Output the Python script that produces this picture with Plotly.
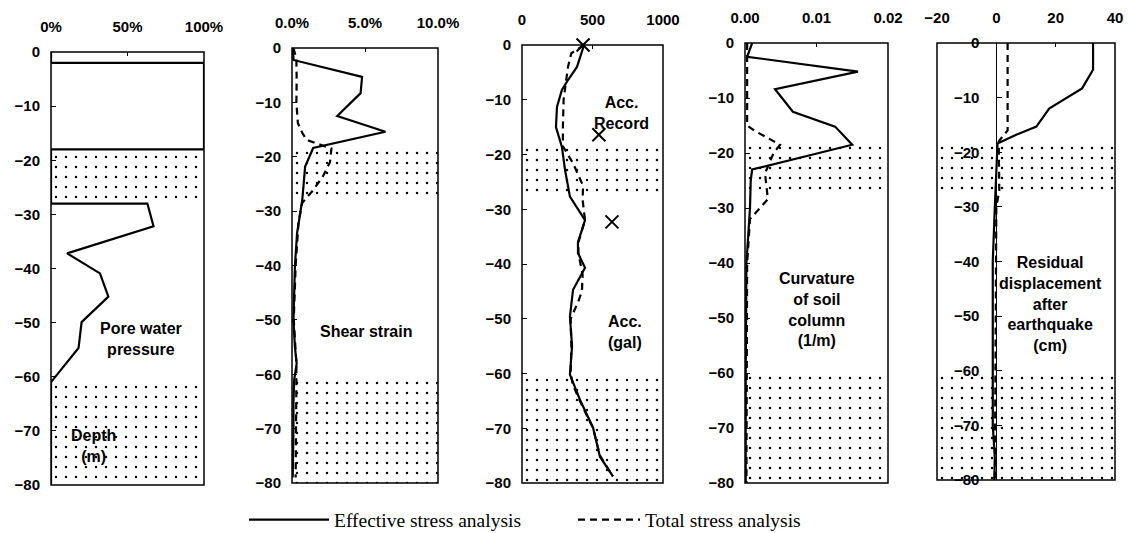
import plotly.graph_objects as go

W, H = 1128, 533

# ---------------- data ----------------
depth_ticks = [0, -10, -20, -30, -40, -50, -60, -70, -80]
layers = [(-18, -27.5), (-60.5, -80)]          # dotted soil layers (top, bottom)

# Panel 1: pore water pressure ratio (%)
pwp_depth = [0, -2, -2, -18, -18, -28, -28, -32.2, -37.2, -40.9, -45.2, -49.9, -54.7, -61, -80]
pwp_eff = [0, 0, 100, 100, 0, 0, 63, 67, 10.5, 32, 37.5, 20, 18, 0, 0]

# Panel 2: shear strain (%)
ss_eff_depth = [0, -2.2, -5.3, -8.3, -12.5, -15.4, -18.4, -21.8, -28, -34, -40, -46, -50, -55, -58, -61, -65, -70, -75, -79]
ss_eff = [0.07, 0.1, 4.8, 4.7, 3.1, 6.4, 1.45, 0.9, 0.7, 0.35, 0.2, 0.15, 0.1, 0.2, 0.32, 0.15, 0.1, 0.1, 0.05, 0.05]
ss_tot_depth = [0, -2, -6, -10, -13.8, -15.6, -16.9, -18.5, -21, -23.7, -26.3, -28.5, -32, -40, -50, -58, -62, -70, -79]
ss_tot = [0.1, 0.3, 0.32, 0.3, 0.4, 0.7, 1.0, 2.7, 2.6, 2.1, 1.4, 0.7, 0.45, 0.25, 0.12, 0.3, 0.3, 0.3, 0.25]

# Panel 3: acceleration (gal)
acc_eff_depth = [0, -2.4, -4, -6.4, -8.2, -11.3, -15, -18.6, -22.8, -27.7, -32, -36, -38, -40.7, -44.7, -49.6, -55, -60.2, -64.8, -69.9, -75.2, -78.8]
acc_eff = [440, 411, 390, 326, 283, 248, 241, 283, 305, 340, 447, 397, 397, 447, 362, 340, 355, 340, 411, 504, 553, 645]
acc_tot_depth = [0, -1.5, -4, -10, -15, -18.5, -21.6, -23.7, -25.7, -28.3, -32, -36, -38, -42, -45, -47, -50, -55, -60, -62, -65, -70, -75, -78.8]
acc_tot = [440, 350, 326, 295, 290, 290, 362, 397, 433, 430, 447, 400, 400, 430, 425, 397, 345, 350, 345, 360, 410, 504, 553, 645]
rec_depth = [0, -16.4, -32.3]
rec_acc = [433, 545, 638]

# Panel 4: curvature of soil column (1/m)
cur_eff_depth = [0, -2.5, -5.2, -8.4, -12.5, -15.2, -18.5, -23, -25, -30, -40, -50, -60, -70, -80]
cur_eff = [0.001, 0.0003, 0.0158, 0.0042, 0.0067, 0.0126, 0.015, 0.001, 0.0008, 0.0007, 0.0002, 0.0001, 0.0001, 0.0001, 0.0001]
cur_tot_depth = [0, -5, -10, -15, -16, -17.3, -18.5, -20, -23.7, -28.4, -30.4, -32, -40, -60, -80]
cur_tot = [0.0003, 0.0003, 0.0002, 0.0003, 0.0014, 0.0032, 0.0049, 0.004, 0.0028, 0.0032, 0.0018, 0.0007, 0.0003, 0.0003, 0.0002]

# Panel 5: residual displacement after earthquake (cm)
dis_eff_depth = [0, -4.9, -8.3, -12, -15.3, -16.8, -18.4, -25, -30, -40, -50, -60, -70, -76, -80]
dis_eff = [32.6, 32.6, 28.9, 17.8, 13.5, 6.7, 0.4, 0, -0.5, -1.2, -1.2, -1.2, -1.2, -0.5, -0.7]
dis_tot_depth = [0, -16, -18, -27, -30, -80]
dis_tot = [3.8, 3.8, 0.8, 1.0, 0, -0.5]

x_ranges = [[0, 100], [0, 10], [0, 1000], [0, 0.02], [-20, 40]]
x_tickvals = [[0, 50, 100], [0, 5, 10], [0, 500, 1000], [0, 0.01, 0.02], [-20, 0, 20, 40]]
x_ticktext = [["0%", "50%", "100%"], ["0.0%", "5.0%", "10.0%"], ["0", "500", "1000"],
              ["0.00", "0.01", "0.02"], ["−20", "0", "20", "40"]]

# ---------------- layout geometry (pixels) ----------------
px_x = [(51, 204), (292, 438), (522, 663), (745, 888), (937, 1115)]
px_y = [(52, 485), (48, 483), (45, 483), (43, 483), (43, 480)]

TICKFONT = dict(family="Liberation Sans, Arial", size=15, color="black", weight="bold")
ANNFONT = dict(family="Liberation Sans, Arial", size=16, color="black", weight="bold")
LINE = dict(color="black", width=2.2)
DASH = dict(color="black", width=2.2, dash="7px,5px")

fig = go.Figure()

def ax(i):
    return ("x" if i == 0 else f"x{i+1}"), ("y" if i == 0 else f"y{i+1}")

# dotted layers
for i in range(5):
    xa, ya = ax(i)
    for (top, bot) in layers:
        x0, x1 = x_ranges[i]
        fig.add_trace(go.Scatter(
            x=[x0, x1, x1, x0, x0], y=[top, top, bot, bot, top],
            mode="none", fill="toself", fillcolor="rgba(0,0,0,0)",
            fillpattern=dict(shape=".", fgcolor="black", bgcolor="rgba(0,0,0,0)",
                             size=10, solidity=0.05, fillmode="replace"),
            xaxis=xa, yaxis=ya, showlegend=False, hoverinfo="skip"))

series = [
    (pwp_eff, pwp_depth, None, None),
    (ss_eff, ss_eff_depth, ss_tot, ss_tot_depth),
    (acc_eff, acc_eff_depth, acc_tot, acc_tot_depth),
    (cur_eff, cur_eff_depth, cur_tot, cur_tot_depth),
    (dis_eff, dis_eff_depth, dis_tot, dis_tot_depth),
]
for i, (ev, ed, tv, td) in enumerate(series):
    xa, ya = ax(i)
    if tv is not None:
        fig.add_trace(go.Scatter(x=tv, y=td, mode="lines", line=DASH, xaxis=xa, yaxis=ya,
                                 name="Total stress analysis", legend="legend2",
                                 showlegend=(i == 1)))
    fig.add_trace(go.Scatter(x=ev, y=ed, mode="lines", line=LINE, xaxis=xa, yaxis=ya,
                             name="Effective stress analysis", legend="legend",
                             showlegend=(i == 1)))

fig.add_trace(go.Scatter(x=rec_acc, y=rec_depth, mode="markers", xaxis="x3", yaxis="y3",
                         marker=dict(symbol="x-thin", size=13, line=dict(width=2, color="black")),
                         showlegend=False, cliponaxis=False))

layout = dict(width=W, height=H, margin=dict(l=0, r=0, t=0, b=0, autoexpand=False),
              paper_bgcolor="white", plot_bgcolor="white", shapes=[], annotations=[])

for i in range(5):
    xs = "xaxis" if i == 0 else f"xaxis{i+1}"
    ys = "yaxis" if i == 0 else f"yaxis{i+1}"
    xa, ya = ax(i)
    dx = (px_x[i][0] / W, px_x[i][1] / W)
    dy = (1 - px_y[i][1] / H, 1 - px_y[i][0] / H)
    layout[xs] = dict(domain=list(dx), anchor=ya, side="top", range=x_ranges[i],
                      tickvals=x_tickvals[i], ticktext=x_ticktext[i], tickfont=TICKFONT,
                      ticks="inside", ticklen=4, tickcolor="black", showgrid=False,
                      zeroline=(i == 4), zerolinecolor="black", zerolinewidth=1,
                      showline=False, ticklabelstandoff=16, fixedrange=True, automargin=False)
    ydict = dict(domain=list(dy), range=[-80, 0], tickvals=depth_ticks,
                 tickfont=TICKFONT, ticks="inside", ticklen=5, tickcolor="black",
                 showgrid=False, zeroline=False, showline=False, ticklabelstandoff=10,
                 fixedrange=True, automargin=False)
    if i == 4:
        frac = (0 - x_ranges[4][0]) / (x_ranges[4][1] - x_ranges[4][0])
        ydict.update(anchor="free", position=dx[0] + frac * (dx[1] - dx[0]),
                     ticklabelstandoff=17)
    else:
        ydict.update(anchor=xa)
    layout[ys] = ydict
    layout["shapes"].append(dict(type="rect", xref=f"{xa} domain", yref=f"{ya} domain",
                                 x0=0, x1=1, y0=0, y1=1, line=dict(color="black", width=1.5)))

ann = [
    ("x", "y", 59, -53, "Pore water<br>pressure"),
    ("x", "y", 28, -72.8, "Depth<br>(m)"),
    ("x2", "y2", 5.1, -52.2, "Shear strain"),
    ("x3", "y3", 709, -12.4, "Acc.<br>Record"),
    ("x3", "y3", 730, -52.4, "Acc.<br>(gal)"),
    ("x4", "y4", 0.0101, -48.5, "Curvature<br>of soil<br>column<br>(1/m)"),
    ("x5", "y5", 18.1, -47.8, "Residual<br>displacement<br>after<br>earthquake<br>(cm)"),
]
for xr, yr, x, y, t in ann:
    layout["annotations"].append(dict(xref=xr, yref=yr, x=x, y=y, text=t, showarrow=False,
                                      font=ANNFONT, align="center"))

legfont = dict(family="Liberation Serif, Times New Roman", size=19.5, color="black")
layout["legend"] = dict(x=244 / W, y=1 - 520 / H, xanchor="left", yanchor="middle",
                        orientation="h", font=legfont, itemwidth=80, bgcolor="rgba(0,0,0,0)")
layout["legend2"] = dict(x=573 / W, y=1 - 520 / H, xanchor="left", yanchor="middle",
                         orientation="h", font=legfont, itemwidth=62, bgcolor="rgba(0,0,0,0)")

fig.update_layout(**layout)
fig.write_html("out.html")
